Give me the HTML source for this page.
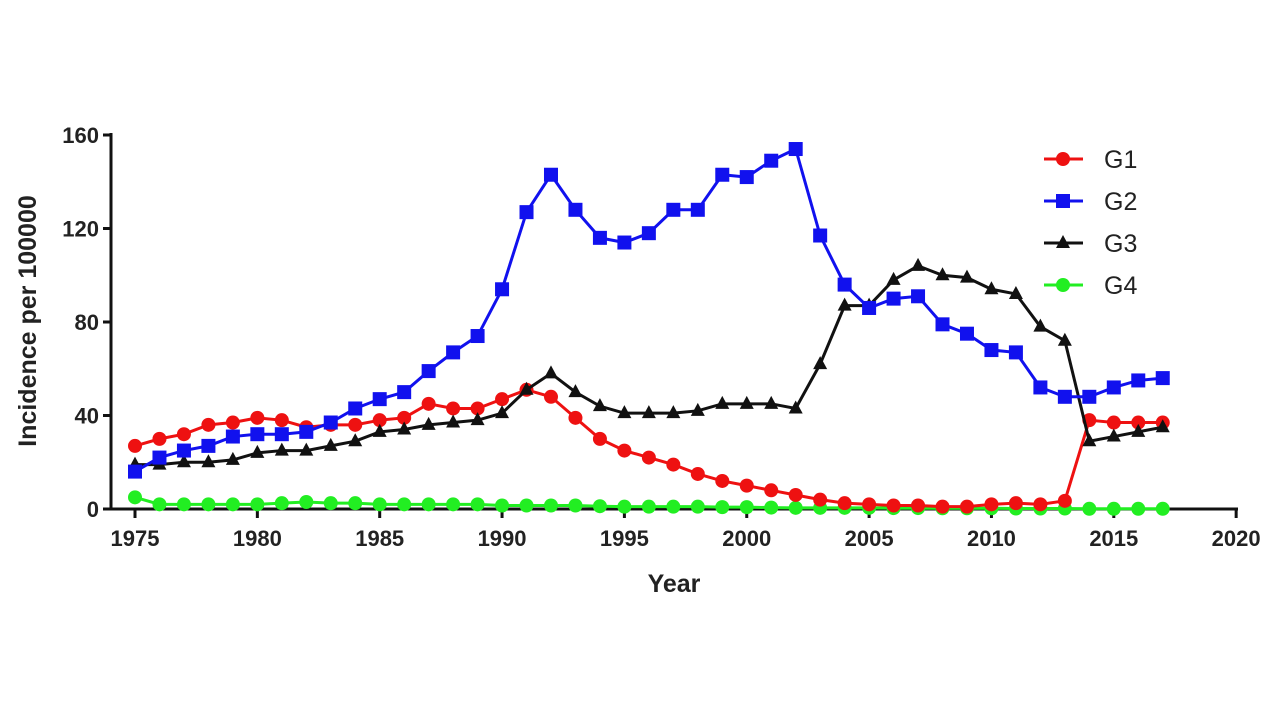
<!DOCTYPE html>
<html><head><meta charset="utf-8"><style>body{margin:0;background:#fff}svg{display:block}text{font-family:"Liberation Sans",Arial,sans-serif;fill:#222}</style></head>
<body>
<svg id="s" width="1280" height="720" xmlns="http://www.w3.org/2000/svg"></svg>
<script>
var s=document.getElementById('s'),h='';
function X(y){return 135+(y-1975)*24.47;}
function Y(v){return 509-v*2.3375;}
h+='<line x1="111" y1="133" x2="111" y2="510" stroke="#111" stroke-width="3"/>';
h+='<line x1="110" y1="509" x2="1238" y2="509" stroke="#111" stroke-width="3"/>';
[0,40,80,120,160].forEach(function(v){var y=Y(v);h+='<line x1="103" y1="'+y+'" x2="111" y2="'+y+'" stroke="#111" stroke-width="3"/><text x="99" y="'+(y+8)+'" font-size="22" font-weight="bold" text-anchor="end">'+v+'</text>';});
for(var yr=1975;yr<=2020;yr+=5){var x=X(yr);h+='<line x1="'+x+'" y1="509" x2="'+x+'" y2="518" stroke="#111" stroke-width="3"/><text x="'+x+'" y="546" font-size="22" font-weight="bold" text-anchor="middle">'+yr+'</text>';}
h+='<text x="674" y="592" font-size="25" font-weight="bold" text-anchor="middle">Year</text>';
h+='<text transform="translate(36,321) rotate(-90)" font-size="25" font-weight="bold" text-anchor="middle">Incidence per 100000</text>';
var G1=[27,30,32,36,37,39,38,35,36,36,38,39,45,43,43,47,51,48,39,30,25,22,19,15,12,10,8,6,4,2.5,2,1.5,1.5,1,1,2,2.5,2,3.5,38,37,37,37];
var G2=[16,22,25,27,31,32,32,33,37,43,47,50,59,67,74,94,127,143,128,116,114,118,128,128,143,142,149,154,117,96,86,90,91,79,75,68,67,52,48,48,52,55,56];
var G3=[19,19,20,20,21,24,25,25,27,29,33,34,36,37,38,41,51,58,50,44,41,41,41,42,45,45,45,43,62,87,87,98,104,100,99,94,92,78,72,29,31,33,35];
var G4=[5,2,2,2,2,2,2.5,3,2.5,2.5,2,2,2,2,2,1.5,1.5,1.5,1.5,1.2,1,1,1,1,0.8,0.8,0.6,0.5,0.5,0.5,0.5,0.4,0.4,0.3,0.3,0.3,0.2,0.2,0.2,0.1,0.1,0.1,0.1];
function mk(t,c,x,y){if(t=='c')return '<circle cx="'+x+'" cy="'+y+'" r="7" fill="'+c+'"/>';if(t=='s')return '<rect x="'+(x-7)+'" y="'+(y-7)+'" width="14" height="14" fill="'+c+'"/>';return '<polygon points="'+x+','+(y-8)+' '+(x+7)+','+(y+5)+' '+(x-7)+','+(y+5)+'" fill="'+c+'"/>';}
function ser(d,c,t){var p=d.map(function(v,i){return X(1975+i)+','+Y(v);}).join(' ');h+='<polyline points="'+p+'" fill="none" stroke="'+c+'" stroke-width="3"/>';d.forEach(function(v,i){h+=mk(t,c,X(1975+i),Y(v));});}
ser(G4,'#22ee22','c');ser(G1,'#ee1111','c');ser(G3,'#111','t');ser(G2,'#1111ee','s');
[['G1','#ee1111','c'],['G2','#1111ee','s'],['G3','#111','t'],['G4','#22ee22','c']].forEach(function(g,i){var y=159+i*42;h+='<line x1="1044" y1="'+y+'" x2="1083" y2="'+y+'" stroke="'+g[1]+'" stroke-width="3"/>'+mk(g[2],g[1],1063,y)+'<text x="1104" y="'+(y+9)+'" font-size="25">'+g[0]+'</text>';});
s.innerHTML=h;
</script>
</body></html>
